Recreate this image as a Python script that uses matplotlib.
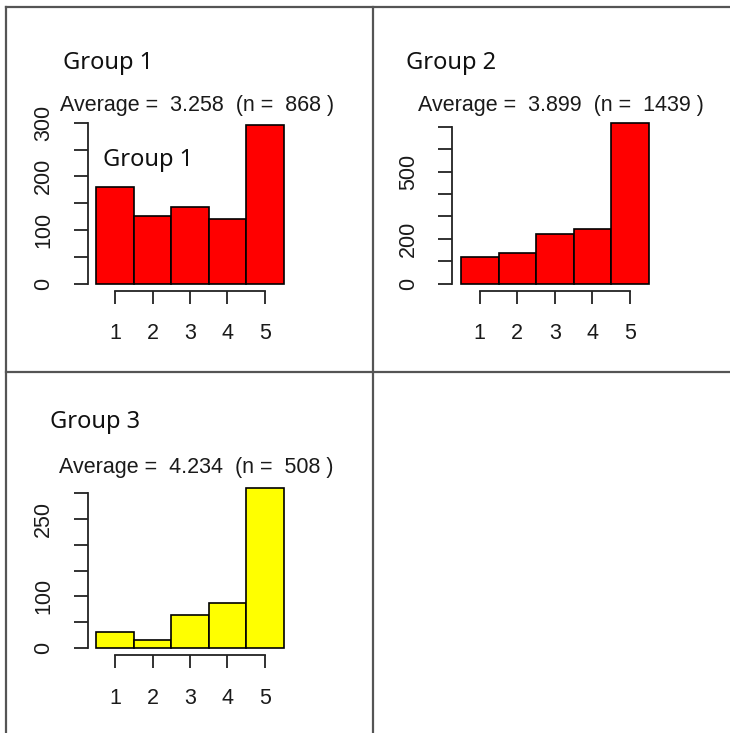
import matplotlib
matplotlib.use("Agg")
import matplotlib.pyplot as plt

# data
scores = [1, 2, 3, 4, 5]
group_names = ["Group 1", "Group 2", "Group 3"]
counts_g1 = [181, 127, 143, 121, 296]
counts_g2 = [121, 139, 220, 243, 716]
counts_g3 = [31, 16, 65, 87, 309]
averages = ["3.258", "3.899", "4.234"]
sizes = ["868", "1439", "508"]
bar_colors = ["#ff0000", "#ff0000", "#ffff00"]
ytick_vals = [[0, 50, 100, 150, 200, 250, 300],
              [0, 100, 200, 300, 400, 500, 600, 700],
              [0, 50, 100, 150, 200, 250, 300]]
ytick_text = [["0", "", "100", "", "200", "", "300"],
              ["0", "", "200", "", "", "500", "", ""],
              ["0", "", "100", "", "", "250", ""]]

W, H = 730, 733
fig = plt.figure(figsize=(W / 100, H / 100), dpi=100)

# table grid in pixel coords
bg = fig.add_axes([0, 0, 1, 1])
bg.set_xlim(0, W)
bg.set_ylim(H, 0)
bg.axis("off")
line_kw = dict(color="#555555", lw=1.6)
bg.plot([6, W], [7, 7], **line_kw)
bg.plot([6, 6], [7, H], **line_kw)
bg.plot([373, 373], [7, H], **line_kw)
bg.plot([6, W], [372, 372], **line_kw)

arial = "Liberation Sans"
title_font = "Noto Sans"
txt_col = "#1a1a1a"


def px_box(x0, x1, ytop, ybot):
    return [x0 / W, 1 - ybot / H, (x1 - x0) / W, (ybot - ytop) / H]


# (bars left, bars right, y of top tick, y of zero)
boxes = [(96.3, 283.7, 122.7, 283.7),
         (461.0, 648.7, 126.7, 283.7),
         (96.3, 283.7, 492.7, 648.3)]
titles_at = [(63, 63), (406, 63), (50, 422)]
avg_at = [(197, 106), (561, 106), (196, 467)]

all_counts = [counts_g1, counts_g2, counts_g3]
for i in range(3):
    x0, x1, yt, yb = boxes[i]
    ax = fig.add_axes(px_box(x0, x1, yt, yb))
    ax.bar(scores, all_counts[i], width=1.0, color=bar_colors[i],
           edgecolor="black", linewidth=1.2, clip_on=False)
    ax.set_xlim(0.5, 5.5)
    ax.set_ylim(0, ytick_vals[i][-1])
    ax.patch.set_visible(False)
    for s in ["top", "right"]:
        ax.spines[s].set_visible(False)
    ax.spines["left"].set_position(("outward", 6.2))
    ax.spines["bottom"].set_position(("outward", 5.0))
    ax.spines["left"].set_bounds(0, ytick_vals[i][-1])
    ax.spines["bottom"].set_bounds(1, 5)
    for s in ["left", "bottom"]:
        ax.spines[s].set_linewidth(1.3)
        ax.spines[s].set_color("#222222")
    ax.set_xticks(scores)
    ax.set_xticklabels([str(v) for v in scores], fontfamily=arial,
                       fontsize=15.5, color=txt_col)
    ax.set_yticks(ytick_vals[i])
    ax.set_yticklabels(ytick_text[i], fontfamily=arial, fontsize=15.5,
                       color=txt_col, rotation=90, va="center")
    ax.tick_params(axis="x", direction="out", length=9.5, width=1.3,
                   pad=14, color="#222222")
    ax.tick_params(axis="y", direction="out", length=10, width=1.3,
                   pad=14, color="#222222")

    tx, ty = titles_at[i]
    bg.text(tx, ty, group_names[i], fontfamily=title_font, fontsize=17,
            color="#111111", ha="left", va="center")
    axx, axy = avg_at[i]
    bg.text(axx, axy, "Average =  %s  (n =  %s )" % (averages[i], sizes[i]),
            fontfamily=arial, fontsize=15.5, color=txt_col,
            ha="center", va="center")

# stray label sitting over the first plot
bg.text(103, 160, group_names[0], fontfamily=title_font, fontsize=17,
        color="#111111", ha="left", va="center")

fig.savefig("out.png", dpi=100)
